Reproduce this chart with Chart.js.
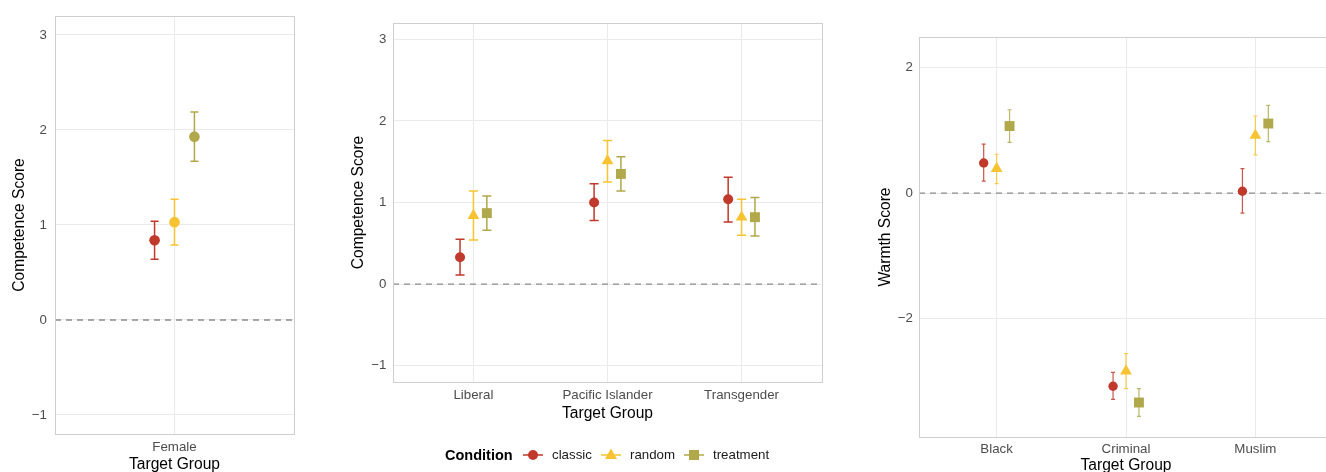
<!DOCTYPE html>
<html>
<head>
<meta charset="utf-8">
<script src="https://cdn.jsdelivr.net/npm/chart.js@4/dist/chart.umd.min.js"></script>
<style>
  body { margin: 0; width: 1326px; height: 472px; overflow: hidden; background: #fff; position: relative;
         font-family: "Liberation Sans", Arial, sans-serif; }
  canvas { position: absolute; top: 0; }
  .leg { position: absolute; top: 446px; height: 18px; line-height: 18px; font-size: 13.3px; color: #1a1a1a; white-space: nowrap; }
  .leg svg { display: block; }
</style>
</head>
<body>
<canvas id="female" width="300" height="474" style="left:0px"></canvas>
<canvas id="competence" width="500" height="472" style="left:330px"></canvas>
<canvas id="warmth" width="480" height="475" style="left:860px"></canvas>

<div class="leg" style="left:445px;font-weight:bold;font-size:14.5px;color:#000">Condition</div>
<div class="leg" style="left:522px"><svg width="22" height="18"><line x1="1" y1="9" x2="21" y2="9" stroke="#C0392B" stroke-width="1.5"/><circle cx="11" cy="9" r="5" fill="#C0392B"/></svg></div>
<div class="leg" style="left:552px">classic</div>
<div class="leg" style="left:600px"><svg width="22" height="18"><line x1="1" y1="9" x2="21" y2="9" stroke="#F7C332" stroke-width="1.5"/><polygon points="11,2.5 17,13 5,13" fill="#F7C332"/></svg></div>
<div class="leg" style="left:630px">random</div>
<div class="leg" style="left:683px"><svg width="22" height="18"><line x1="1" y1="9" x2="21" y2="9" stroke="#B0A84A" stroke-width="1.5"/><rect x="6" y="4" width="10" height="10" fill="#B0A84A"/></svg></div>
<div class="leg" style="left:713px">treatment</div>

<script>
// conditions and colours
const conditions = ["classic", "random", "treatment"];
const colors = ["#C0392B", "#F7C332", "#B0A84A"];
const shapes = ["circle", "triangle", "rect"];
const dodge = [-0.1, 0, 0.1];
const refValue = 0;

// panel 1: competence, Female
const femaleGroups = ["Female"];
const femaleClassic = [0.84], femaleClassicLo = [0.64], femaleClassicHi = [1.04];
const femaleRandom = [1.03], femaleRandomLo = [0.79], femaleRandomHi = [1.27];
const femaleTreatment = [1.93], femaleTreatmentLo = [1.67], femaleTreatmentHi = [2.19];

// panel 2: competence
const compGroups = ["Liberal", "Pacific Islander", "Transgender"];
const compClassic = [0.33, 1.00, 1.04];
const compClassicLo = [0.11, 0.78, 0.76];
const compClassicHi = [0.55, 1.23, 1.31];
const compRandom = [0.84, 1.51, 0.82];
const compRandomLo = [0.54, 1.25, 0.60];
const compRandomHi = [1.14, 1.76, 1.04];
const compTreatment = [0.87, 1.35, 0.82];
const compTreatmentLo = [0.66, 1.14, 0.59];
const compTreatmentHi = [1.08, 1.56, 1.06];

// panel 3: warmth
const warmGroups = ["Black", "Criminal", "Muslim"];
const warmClassic = [0.48, -3.08, 0.03];
const warmClassicLo = [0.19, -3.29, -0.32];
const warmClassicHi = [0.78, -2.86, 0.39];
const warmRandom = [0.39, -2.84, 0.92];
const warmRandomLo = [0.15, -3.12, 0.61];
const warmRandomHi = [0.62, -2.56, 1.23];
const warmTreatment = [1.07, -3.34, 1.11];
const warmTreatmentLo = [0.81, -3.56, 0.82];
const warmTreatmentHi = [1.33, -3.12, 1.40];

Chart.defaults.font.family = '"Liberation Sans", Arial, sans-serif';

const gridColor = "#ebebeb";
const tickColor = "#4d4d4d";

// dashed zero line + error bars, drawn under the points
const errorBarPlugin = {
    id: "errorBars",
    beforeDatasetsDraw(chart, args, opts) {
        const { ctx, chartArea, scales: { x, y } } = chart;
        ctx.save();
        const y0 = y.getPixelForValue(refValue);
        ctx.strokeStyle = "#8c8c8c";
        ctx.lineWidth = 1.3;
        ctx.setLineDash([6, 5]);
        ctx.beginPath();
        ctx.moveTo(chartArea.left, y0);
        ctx.lineTo(chartArea.right, y0);
        ctx.stroke();
        ctx.setLineDash([]);

        chart.data.datasets.forEach((ds) => {
            ctx.strokeStyle = ds.borderColor;
            ctx.globalAlpha = opts.alpha;
            ctx.lineWidth = opts.width;
            ds.data.forEach((pt, i) => {
                const px = x.getPixelForValue(pt.x);
                const top = y.getPixelForValue(ds.hi[i]);
                const bot = y.getPixelForValue(ds.lo[i]);
                ctx.beginPath();
                ctx.moveTo(px, top);
                ctx.lineTo(px, bot);
                ctx.moveTo(px - opts.cap, top);
                ctx.lineTo(px + opts.cap, top);
                ctx.moveTo(px - opts.cap, bot);
                ctx.lineTo(px + opts.cap, bot);
                ctx.stroke();
            });
        });
        ctx.restore();
    },
};

// light panel border
const borderPlugin = {
    id: "panelBorder",
    afterDatasetsDraw(chart) {
        const { ctx, chartArea: a } = chart;
        ctx.save();
        ctx.strokeStyle = "#cfcfcf";
        ctx.lineWidth = 1;
        ctx.strokeRect(Math.round(a.left) + 0.5, Math.round(a.top) + 0.5,
            Math.round(a.right - a.left), Math.round(a.bottom - a.top));
        ctx.restore();
    },
};

function fmt(v) {
    return v < 0 ? "\u2212" + Math.abs(v) : String(v);
}

function makePanel(id, groups, series, cfg) {
    const datasets = series.map((s, k) => ({
        label: conditions[k],
        data: s.mean.map((m, i) => ({ x: i + 1 + dodge[k], y: m })),
        lo: s.lo,
        hi: s.hi,
        pointStyle: cfg.shapes ? shapes[k] : "circle",
        pointRadius: cfg.radius[k],
        pointHoverRadius: cfg.radius[k],
        backgroundColor: colors[k],
        borderColor: colors[k],
        pointBorderWidth: 0,
        showLine: false,
    }));

    new Chart(document.getElementById(id), {
        type: "scatter",
        data: { datasets },
        options: {
            responsive: false,
            animation: false,
            devicePixelRatio: 1,
            layout: { padding: cfg.padding },
            plugins: {
                legend: { display: false },
                tooltip: { enabled: false },
                errorBars: { cap: cfg.cap, width: cfg.barWidth, alpha: cfg.barAlpha },
            },
            scales: {
                x: {
                    type: "linear",
                    min: 0.4,
                    max: groups.length + 0.6,
                    afterFit: (s) => { s.height = cfg.xh; },
                    grid: { color: gridColor, lineWidth: 1, drawTicks: false },
                    border: { display: false },
                    ticks: {
                        stepSize: 1,
                        includeBounds: false,
                        autoSkip: false,
                        maxRotation: 0,
                        padding: cfg.xpad,
                        color: tickColor,
                        font: { size: 13.3 },
                        callback: (v) => groups[Math.round(v) - 1] ?? "",
                    },
                    title: {
                        display: true,
                        text: "Target Group",
                        color: "#000",
                        font: { size: 15.6 },
                        padding: { top: 0, bottom: 0 },
                    },
                },
                y: {
                    min: cfg.ymin,
                    max: cfg.ymax,
                    afterFit: (s) => { s.width = cfg.yw; },
                    grid: { color: gridColor, lineWidth: 1, drawTicks: false },
                    border: { display: false },
                    ticks: {
                        stepSize: cfg.step,
                        includeBounds: false,
                        padding: cfg.ypad,
                        color: tickColor,
                        font: { size: 13.3 },
                        callback: (v) => fmt(v),
                    },
                    title: {
                        display: true,
                        text: cfg.ytitle,
                        color: "#000",
                        font: { size: 15.6 },
                        padding: { top: cfg.ytitlePad, bottom: 0 },
                    },
                },
            },
        },
        plugins: [errorBarPlugin, borderPlugin],
    });
}

makePanel("female", femaleGroups, [
    { mean: femaleClassic, lo: femaleClassicLo, hi: femaleClassicHi },
    { mean: femaleRandom, lo: femaleRandomLo, hi: femaleRandomHi },
    { mean: femaleTreatment, lo: femaleTreatmentLo, hi: femaleTreatmentHi },
], {
    shapes: false, radius: [5.3, 5.3, 5.3],
    padding: { top: 15, right: 6, bottom: 0, left: 0 },
    xh: 40, xpad: 5.5, yw: 55, ymin: -1.2, ymax: 3.2, step: 1, ypad: 8,
    ytitle: "Competence Score", ytitlePad: 10,
    cap: 4, barWidth: 1.5, barAlpha: 1,
});

makePanel("competence", compGroups, [
    { mean: compClassic, lo: compClassicLo, hi: compClassicHi },
    { mean: compRandom, lo: compRandomLo, hi: compRandomHi },
    { mean: compTreatment, lo: compTreatmentLo, hi: compTreatmentHi },
], {
    shapes: true, radius: [5, 6.8, 7],
    padding: { top: 23, right: 8, bottom: 49, left: 0 },
    xh: 41, xpad: 5, yw: 63, ymin: -1.2, ymax: 3.2, step: 1, ypad: 6.5,
    ytitle: "Competence Score", ytitlePad: 19,
    cap: 4.5, barWidth: 1.5, barAlpha: 1,
});

makePanel("warmth", warmGroups, [
    { mean: warmClassic, lo: warmClassicLo, hi: warmClassicHi },
    { mean: warmRandom, lo: warmRandomLo, hi: warmRandomHi },
    { mean: warmTreatment, lo: warmTreatmentLo, hi: warmTreatmentHi },
], {
    shapes: true, radius: [4.7, 6.8, 7],
    padding: { top: 37, right: 4, bottom: 0, left: 0 },
    xh: 38, xpad: 4.5, yw: 59, ymin: -3.89, ymax: 2.49, step: 2, ypad: 6,
    ytitle: "Warmth Score", ytitlePad: 16.5,
    cap: 2, barWidth: 1.2, barAlpha: 0.85,
});
</script>
</body>
</html>
